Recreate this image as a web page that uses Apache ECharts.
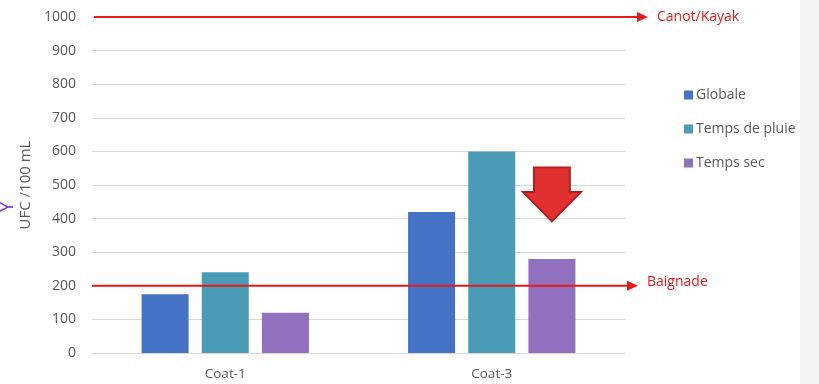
<!DOCTYPE html>
<html>
<head>
<meta charset="utf-8">
<script src="https://cdn.jsdelivr.net/npm/echarts@6/dist/echarts.min.js"></script>
<style>
  html, body { margin: 0; padding: 0; background: #ffffff; }
  #chart { width: 819px; height: 384px; }
</style>
</head>
<body>
<div id="chart"></div>
<script>
// Bacterial counts per site and weather condition
const categories = ['Coat-1', 'Coat-3'];
const seriesNames = ['Globale', 'Temps de pluie', 'Temps sec'];
const globale = [175, 420];
const tempsPluie = [240, 600];
const tempsSec = [120, 280];
const yTicks = [0, 100, 200, 300, 400, 500, 600, 700, 800, 900, 1000];

// Regulatory thresholds (UFC / 100 mL)
const thresholdNames = ['Canot/Kayak', 'Baignade'];
const thresholdValues = [1000, 200];

// Position of the highlight arrow above the dry-weather bar
const highlightCategory = 'Coat-3';
const highlightValue = 472;

const FONT = '"Open Sans", "Noto Sans", sans-serif';
const TEXT = '#595959';
const RED = '#e41c1c';
const colors = ['#4472c4', '#4a9bb6', '#9171bd'];

const GRID = { left: 92, right: 194, top: 17, bottom: 31 };
const W = 819, H = 384;

const chart = echarts.init(document.getElementById('chart'), null, { renderer: 'canvas' });

const barCommon = { type: 'bar', barWidth: 47, barGap: '28%' };

chart.setOption({
  animation: false,
  backgroundColor: '#ffffff',
  textStyle: { fontFamily: FONT },
  grid: { left: GRID.left, right: GRID.right, top: GRID.top, bottom: GRID.bottom },
  legend: {
    orient: 'vertical',
    left: 679,
    top: 83,
    itemWidth: 9,
    itemHeight: 9,
    itemGap: 20,
    icon: 'rect',
    textStyle: { color: TEXT, fontSize: 14, fontFamily: FONT, padding: [0, 0, 0, -2] },
    data: seriesNames
  },
  xAxis: {
    type: 'category',
    data: categories,
    axisLine: { lineStyle: { color: '#d9d9d9' } },
    axisTick: { show: false },
    axisLabel: { color: TEXT, fontSize: 13.5, fontFamily: FONT, margin: 14 }
  },
  yAxis: {
    type: 'value',
    min: yTicks[0],
    max: yTicks[yTicks.length - 1],
    interval: yTicks[1] - yTicks[0],
    name: 'UFC /100 mL',
    nameLocation: 'middle',
    nameGap: 57,
    nameRotate: 90,
    nameTextStyle: { color: TEXT, fontSize: 15, fontFamily: FONT },
    axisLine: { show: false },
    axisTick: { show: false },
    axisLabel: {
      color: TEXT, fontSize: 14, fontFamily: FONT, margin: 16,
      formatter: function (v) { return String(v); }
    },
    splitLine: { lineStyle: { color: '#d9d9d9', width: 1 } }
  },
  series: [
    Object.assign({ name: seriesNames[0], data: globale, itemStyle: { color: colors[0] } }, barCommon),
    Object.assign({ name: seriesNames[1], data: tempsPluie, itemStyle: { color: colors[1] } }, barCommon),
    Object.assign({
      name: seriesNames[2], data: tempsSec, itemStyle: { color: colors[2] },
      markPoint: {
        silent: true,
        symbol: 'path://M11.5,0 L48.5,0 L48.5,25 L60,25 L30,55 L0,25 L11.5,25 Z',
        symbolSize: [58, 54],
        itemStyle: { color: '#e03030', borderColor: '#b31e1e', borderWidth: 2 },
        label: { show: false },
        data: [{ coord: [highlightCategory, highlightValue] }]
      }
    }, barCommon)
  ]
});

// Threshold arrows drawn across the plot and slightly past its right edge
const plotRight = W - GRID.right;
const overshoot = [23, 13];
const graphics = [
  { type: 'rect', shape: { x: 800, y: 0, width: W - 800, height: H }, style: { fill: '#f3f3f3' }, z: -1 },
  {
    type: 'text', x: 8, y: 207, rotation: Math.PI / 2,
    style: { text: 'Y', fill: '#7a1fe0', font: '18px ' + FONT, textAlign: 'center', textVerticalAlign: 'middle' }
  }
];
thresholdValues.forEach(function (v, i) {
  const y = chart.convertToPixel({ yAxisIndex: 0 }, v);
  const x0 = GRID.left + (i === 0 ? 2 : 0);
  const x1 = plotRight + overshoot[i];
  graphics.push({
    type: 'line', z: 100,
    shape: { x1: x0, y1: y, x2: x1 - 8, y2: y },
    style: { stroke: RED, lineWidth: 2 }
  });
  graphics.push({
    type: 'polygon', z: 100,
    shape: { points: [[x1 - 11, y - 5], [x1, y], [x1 - 11, y + 5]] },
    style: { fill: RED }
  });
  graphics.push({
    type: 'text', z: 100,
    x: x1 + 9, y: y - (i === 0 ? 0 : 4),
    style: { text: thresholdNames[i], fill: RED, font: '14px ' + FONT, textVerticalAlign: 'middle' }
  });
});
chart.setOption({ graphic: graphics });
</script>
</body>
</html>
